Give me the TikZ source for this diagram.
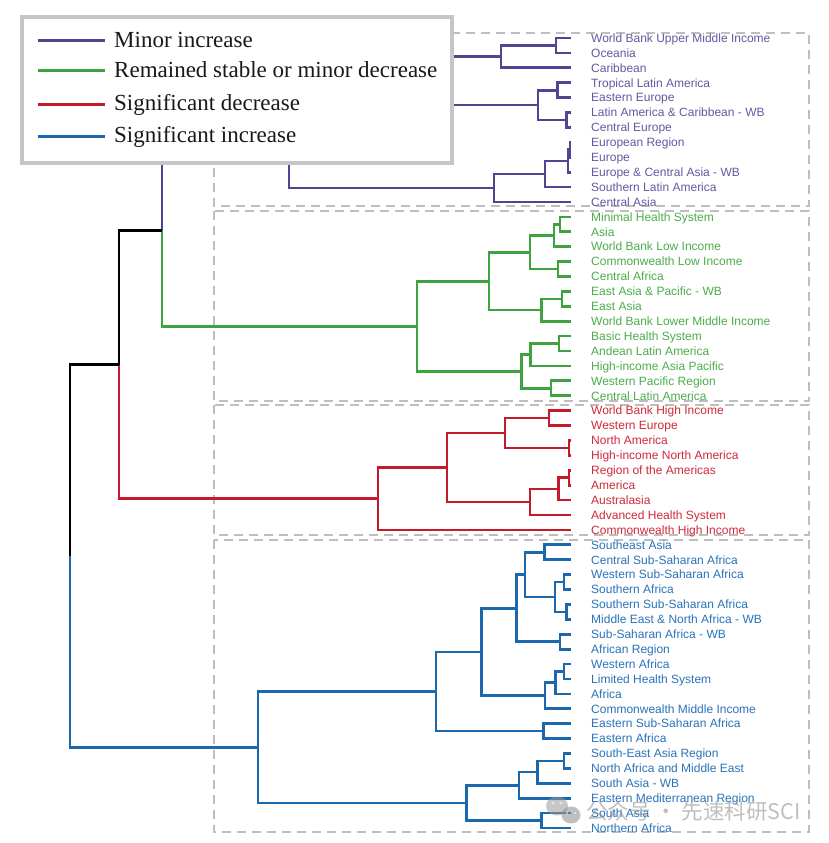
\documentclass[tikz,border=0pt]{standalone}
\usepackage{fontspec}
\setmainfont{Liberation Serif}
\newfontfamily\leaffont{Liberation Sans}
\newfontfamily\cjkfont{Noto Sans CJK SC}
\usetikzlibrary{calc}
\definecolor{pline}{HTML}{524393}
\definecolor{ptext}{HTML}{6757A3}
\definecolor{gline}{HTML}{3EA23E}
\definecolor{gtext}{HTML}{4CAD4C}
\definecolor{rline}{HTML}{C41A2B}
\definecolor{rtext}{HTML}{CF2A3A}
\definecolor{bline}{HTML}{1B68AE}
\definecolor{btext}{HTML}{2A73B9}
\definecolor{boxgray}{HTML}{BEBEBE}
\definecolor{leggray}{HTML}{C6C6C6}
\newcommand{\midc}[4]{\path let \p1=(#3), \p2=(#4) in (#2pt,{(\y1+\y2)/2}) coordinate (#1);}
\newcommand{\dlink}[5]{\midc{#1}{#2}{#3}{#4}\draw[#5] (#3) -| (#1) |- (#4);}
\newcommand{\mkleaf}[3]{\coordinate (l#1) at (571,{38+14.906*#1});\node[leaflab,text=#3] (t#1) at (591,{42.3+14.906*#1}) {#2};}
\begin{document}
\begin{tikzpicture}[x=1pt,y=-1pt,
  leaflab/.style={font=\leaffont\fontsize{12}{14}\selectfont,anchor=base west,inner sep=0pt},
  legtext/.style={font=\fontsize{23}{27}\selectfont,anchor=base west,inner sep=0pt,text=black!90},
  legline/.style={line width=3pt},
  pl/.style={pline,line width=2.7pt},
  gl/.style={gline,line width=2.7pt},
  rl/.style={rline,line width=2.7pt},
  bl/.style={bline,line width=2.7pt},
  kl/.style={black,line width=2.3pt},
  clusterbox/.style={boxgray,line width=2.2pt,dash pattern=on 9pt off 6pt},
  legbox/.style={draw=leggray,fill=white,line width=4pt}]
\useasboundingbox[fill=white] (0,0) rectangle (828,843);
% cluster boxes
\draw[clusterbox] (214,33) rectangle (809,206);
\draw[clusterbox] (214,211) rectangle (809,401);
\draw[clusterbox] (214,405) rectangle (809,535);
\draw[clusterbox] (214,540) rectangle (809,832);
% leaves
\mkleaf{0}{World Bank Upper Middle Income}{ptext}
\mkleaf{1}{Oceania}{ptext}
\mkleaf{2}{Caribbean}{ptext}
\mkleaf{3}{Tropical Latin America}{ptext}
\mkleaf{4}{Eastern Europe}{ptext}
\mkleaf{5}{Latin America \& Caribbean - WB}{ptext}
\mkleaf{6}{Central Europe}{ptext}
\mkleaf{7}{European Region}{ptext}
\mkleaf{8}{Europe}{ptext}
\mkleaf{9}{Europe \& Central Asia - WB}{ptext}
\mkleaf{10}{Southern Latin America}{ptext}
\mkleaf{11}{Central Asia}{ptext}
\mkleaf{12}{Minimal Health System}{gtext}
\mkleaf{13}{Asia}{gtext}
\mkleaf{14}{World Bank Low Income}{gtext}
\mkleaf{15}{Commonwealth Low Income}{gtext}
\mkleaf{16}{Central Africa}{gtext}
\mkleaf{17}{East Asia \& Pacific - WB}{gtext}
\mkleaf{18}{East Asia}{gtext}
\mkleaf{19}{World Bank Lower Middle Income}{gtext}
\mkleaf{20}{Basic Health System}{gtext}
\mkleaf{21}{Andean Latin America}{gtext}
\mkleaf{22}{High-income Asia Pacific}{gtext}
\mkleaf{23}{Western Pacific Region}{gtext}
\mkleaf{24}{Central Latin America}{gtext}
\mkleaf{25}{World Bank High Income}{rtext}
\mkleaf{26}{Western Europe}{rtext}
\mkleaf{27}{North America}{rtext}
\mkleaf{28}{High-income North America}{rtext}
\mkleaf{29}{Region of the Americas}{rtext}
\mkleaf{30}{America}{rtext}
\mkleaf{31}{Australasia}{rtext}
\mkleaf{32}{Advanced Health System}{rtext}
\mkleaf{33}{Commonwealth High Income}{rtext}
\mkleaf{34}{Southeast Asia}{btext}
\mkleaf{35}{Central Sub-Saharan Africa}{btext}
\mkleaf{36}{Western Sub-Saharan Africa}{btext}
\mkleaf{37}{Southern Africa}{btext}
\mkleaf{38}{Southern Sub-Saharan Africa}{btext}
\mkleaf{39}{Middle East \& North Africa - WB}{btext}
\mkleaf{40}{Sub-Saharan Africa - WB}{btext}
\mkleaf{41}{African Region}{btext}
\mkleaf{42}{Western Africa}{btext}
\mkleaf{43}{Limited Health System}{btext}
\mkleaf{44}{Africa}{btext}
\mkleaf{45}{Commonwealth Middle Income}{btext}
\mkleaf{46}{Eastern Sub-Saharan Africa}{btext}
\mkleaf{47}{Eastern Africa}{btext}
\mkleaf{48}{South-East Asia Region}{btext}
\mkleaf{49}{North Africa and Middle East}{btext}
\mkleaf{50}{South Asia - WB}{btext}
\mkleaf{51}{Eastern Mediterranean Region}{btext}
\mkleaf{52}{South Asia}{btext}
\mkleaf{53}{Northern Africa}{btext}
% purple cluster
\dlink{p1}{556}{l0}{l1}{pl}
\dlink{p2}{501}{p1}{l2}{pl}
\dlink{p3}{557.7}{l3}{l4}{pl}
\dlink{p4}{566.7}{l5}{l6}{pl}
\dlink{p5}{538}{p3}{p4}{pl}
\dlink{p6}{420}{p2}{p5}{pl}
\dlink{p7}{570}{l7}{l8}{pl}
\dlink{p8}{568}{p7}{l9}{pl}
\dlink{p9}{545}{p8}{l10}{pl}
\dlink{p10}{494}{p9}{l11}{pl}
\dlink{p11}{289}{p6}{p10}{pl}
% green cluster
\dlink{g1}{560}{l12}{l13}{gl}
\dlink{g2}{554}{g1}{l14}{gl}
\dlink{g3}{558}{l15}{l16}{gl}
\dlink{g4}{530}{g2}{g3}{gl}
\dlink{g5}{562}{l17}{l18}{gl}
\dlink{g6}{541.7}{g5}{l19}{gl}
\dlink{g7}{489}{g4}{g6}{gl}
\dlink{g8}{559}{l20}{l21}{gl}
\dlink{g9}{530.7}{g8}{l22}{gl}
\dlink{g10}{551}{l23}{l24}{gl}
\dlink{g11}{521.7}{g9}{g10}{gl}
\dlink{g12}{417}{g7}{g11}{gl}
% red cluster
\dlink{r1}{549}{l25}{l26}{rl}
\dlink{r2}{569}{l27}{l28}{rl}
\dlink{r3}{505}{r1}{r2}{rl}
\dlink{r4}{569}{l29}{l30}{rl}
\dlink{r5}{558.5}{r4}{l31}{rl}
\dlink{r6}{530}{r5}{l32}{rl}
\dlink{r7}{447}{r3}{r6}{rl}
\dlink{r8}{378}{r7}{l33}{rl}
% blue cluster
\dlink{b1}{544.3}{l34}{l35}{bl}
\dlink{b2}{564}{l36}{l37}{bl}
\dlink{b3}{566.7}{l38}{l39}{bl}
\dlink{b4}{555}{b2}{b3}{bl}
\dlink{b5}{525}{b1}{b4}{bl}
\dlink{b6}{560}{l40}{l41}{bl}
\dlink{b7}{516.7}{b5}{b6}{bl}
\dlink{b8}{564}{l42}{l43}{bl}
\dlink{b9}{555.7}{b8}{l44}{bl}
\dlink{b10}{545}{b9}{l45}{bl}
\dlink{b11}{481.7}{b7}{b10}{bl}
\dlink{b12}{543.3}{l46}{l47}{bl}
\dlink{b13}{436}{b11}{b12}{bl}
\dlink{b14}{564}{l48}{l49}{bl}
\dlink{b15}{537.3}{b14}{l50}{bl}
\dlink{b16}{519}{b15}{l51}{bl}
\dlink{b17}{541.7}{l52}{l53}{bl}
\dlink{b18}{466.7}{b16}{b17}{bl}
\dlink{b19}{258}{b13}{b18}{bl}
% upper joins with split colours
\midc{n1}{162}{p11}{g12}
\draw[pl] (p11) -| (n1);
\draw[gl] (n1) |- (g12);
\midc{n2}{119}{n1}{r8}
\draw[kl] (n1) -| (n2);
\draw[rl] (n2) |- (r8);
\midc{root}{70}{n2}{b19}
\draw[kl] (n2) -| (root);
\draw[bl] (root) |- (b19);
% legend
\draw[legbox] (22,17) rectangle (452,163);
\draw[legline,pline] (38,41) -- (105,41);
\draw[legline,gline] (38,71) -- (105,71);
\draw[legline,rline] (38,104) -- (105,104);
\draw[legline,bline] (38,136) -- (105,136);
\node[legtext] (lg1) at (114,47.5) {Minor increase};
\node[legtext] (lg2) at (114,77.5) {Remained stable or minor decrease};
\node[legtext] (lg3) at (114,110.5) {Significant decrease};
\node[legtext] (lg4) at (114,142.5) {Significant increase};
% watermark
\begin{scope}[opacity=0.55]
\fill[gray!80] (557,806) ellipse (11 and 9.5);
\fill[white] (553,803) circle (1.6);
\fill[white] (561,803) circle (1.6);
\fill[gray!90] (571,815) ellipse (9.5 and 8.5);
\fill[white] (567,813) circle (1.4);
\fill[white] (575,813) circle (1.4);
\node[anchor=west,inner sep=0pt,text=gray!90,font=\cjkfont\fontsize{21.5}{24}\selectfont] (wm) at (586,811) {公众号 · 先速科研SCI};
\end{scope}
\end{tikzpicture}
\end{document}
